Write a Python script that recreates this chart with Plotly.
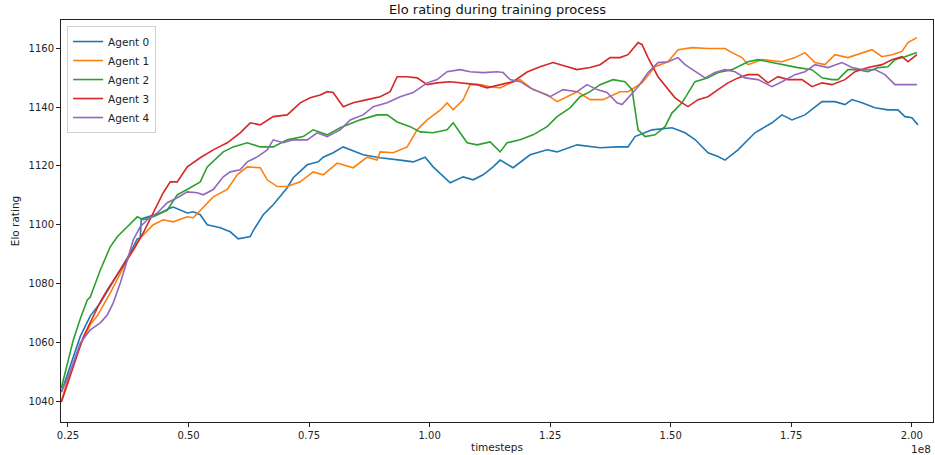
import plotly.graph_objects as go

# timesteps in millions, Elo ratings
agent0_x = [23.62, 25.48, 27.55, 29.63, 31.70, 33.77, 35.85, 37.92, 39.37, 39.99, 40.20, 42.07, 44.14, 46.21, 46.83, 49.74, 50.98, 52.43, 53.88, 56.58, 58.65, 60.31, 62.80, 63.42, 65.49, 67.56, 70.47, 71.71, 74.61, 76.89, 77.93, 80.00, 82.07, 86.22, 89.74, 93.89, 96.59, 99.07, 100.73, 104.26, 106.95, 109.02, 111.10, 113.17, 114.62, 117.32, 120.84, 124.36, 126.44, 130.58, 135.35, 138.87, 141.15, 142.60, 146.13, 150.28, 152.97, 155.04, 157.74, 159.81, 161.26, 163.96, 166.03, 167.48, 171.01, 173.08, 175.15, 177.85, 181.37, 184.07, 186.14, 187.59, 189.66, 192.36, 195.05, 197.13, 198.58, 200.03, 201.27]
agent0_y = [1043, 1052, 1062, 1069, 1073.4, 1079, 1084.6, 1090.4, 1095.2, 1095.5, 1102, 1103, 1104, 1105.7, 1106, 1104, 1104.4, 1103.4, 1100, 1099, 1097.6, 1095.2, 1096, 1098, 1103.4, 1106.8, 1112.6, 1116, 1120.4, 1121.4, 1123, 1124.5, 1126.5, 1123.8, 1122.8, 1122, 1121.4, 1123, 1119.7, 1114.3, 1116.3, 1115.3, 1117, 1119.7, 1122, 1119.4, 1123.8, 1125.5, 1124.8, 1127.2, 1126.2, 1126.5, 1126.5, 1130, 1132.3, 1133, 1131.3, 1129, 1124.5, 1123.2, 1122, 1125.5, 1129, 1131.3, 1134.7, 1137.4, 1135.7, 1137.4, 1141.9, 1141.9, 1140.9, 1142.6, 1141.5, 1139.8, 1139.1, 1139.1, 1136.8, 1136.4, 1134]

agent1_x = [23.62, 25.48, 27.55, 29.63, 31.08, 33.77, 37.30, 39.99, 42.69, 44.76, 46.83, 49.74, 50.98, 53.05, 55.12, 58.03, 60.10, 62.17, 64.87, 66.32, 68.39, 70.47, 73.16, 75.85, 77.93, 80.83, 84.15, 87.05, 89.12, 89.74, 92.44, 95.34, 97.41, 99.49, 102.18, 103.63, 104.88, 106.95, 108.40, 110.47, 112.55, 114.62, 117.32, 118.77, 121.46, 124.36, 126.44, 128.51, 130.58, 133.28, 135.97, 139.50, 141.15, 144.06, 146.75, 149.45, 151.52, 154.43, 157.74, 161.26, 162.71, 164.79, 166.03, 168.93, 173.08, 175.77, 177.85, 179.92, 181.99, 184.07, 186.76, 191.74, 193.81, 195.88, 197.96, 199.20, 201.07]
agent1_y = [1040, 1050, 1059, 1066, 1069, 1076.8, 1088, 1095.5, 1100, 1101.7, 1101, 1102.7, 1102.4, 1106, 1109.5, 1112, 1117, 1119.7, 1119.4, 1115.3, 1113, 1113, 1114.6, 1118, 1117, 1121, 1119.4, 1123, 1122, 1124.8, 1124.5, 1126.5, 1132.3, 1135.7, 1139, 1141.5, 1139.1, 1142.5, 1147.7, 1147.7, 1147, 1146.6, 1148.7, 1149.4, 1146, 1144.3, 1141.9, 1143.6, 1145.3, 1142.6, 1142.6, 1145.3, 1145.3, 1148.3, 1153.8, 1155.5, 1159.6, 1160.3, 1160, 1160, 1158.6, 1156.9, 1154.5, 1156.2, 1155.5, 1156.9, 1158.6, 1155.2, 1154.5, 1157.9, 1156.9, 1159.6, 1157.2, 1157.9, 1159, 1162, 1163.7]

agent2_x = [23.62, 26.10, 27.55, 29.00, 29.63, 31.70, 33.77, 35.22, 37.30, 39.37, 40.61, 42.69, 45.59, 47.66, 50.35, 52.43, 53.88, 55.95, 57.20, 59.27, 62.17, 64.87, 67.56, 70.47, 73.78, 75.85, 78.76, 81.45, 85.60, 89.12, 91.19, 93.27, 95.96, 98.04, 100.73, 103.63, 104.88, 106.33, 107.78, 109.85, 112.55, 114.62, 116.07, 118.77, 121.46, 124.36, 126.44, 129.13, 131.20, 133.28, 135.35, 138.04, 140.53, 141.98, 142.60, 143.23, 144.68, 146.75, 148.82, 150.28, 152.35, 153.59, 155.04, 157.74, 159.81, 162.71, 166.03, 168.10, 171.01, 173.70, 176.40, 179.30, 181.37, 183.44, 184.69, 186.76, 188.84, 190.91, 192.98, 195.05, 196.50, 198.58, 201.07]
agent2_y = [1044.4, 1060.8, 1068, 1074.4, 1075.4, 1084.6, 1092.5, 1095.9, 1099.3, 1102.7, 1101.7, 1102.7, 1105, 1110.2, 1112.6, 1114.6, 1119.7, 1122.8, 1124.8, 1126.5, 1127.9, 1126.5, 1126.5, 1128.9, 1130, 1132.3, 1130.6, 1133, 1135.7, 1137.4, 1137.4, 1135, 1133.4, 1131.6, 1131.3, 1132.3, 1134.7, 1131.3, 1127.9, 1127.2, 1128.2, 1124.8, 1127.9, 1128.9, 1130.6, 1133.4, 1136.8, 1139.8, 1143.6, 1145.3, 1147.7, 1149.4, 1148.7, 1146, 1139.1, 1132.3, 1130, 1130.6, 1133.4, 1138.1, 1141.5, 1145, 1148.7, 1150, 1151.8, 1152.8, 1155.5, 1156.2, 1155.2, 1154.5, 1153.5, 1152.8, 1150, 1149.4, 1149.4, 1152.8, 1152.8, 1152.1, 1153.5, 1153.8, 1156.2, 1157.2, 1158.6]

agent3_x = [23.62, 25.48, 28.17, 31.70, 33.15, 35.85, 38.54, 40.61, 42.69, 44.76, 46.21, 47.66, 49.74, 52.43, 55.12, 58.03, 60.72, 62.80, 64.87, 67.56, 70.47, 73.16, 75.23, 77.31, 78.76, 80.00, 82.07, 84.15, 87.05, 89.74, 91.82, 93.27, 95.34, 97.41, 99.49, 101.56, 104.26, 106.95, 109.85, 111.92, 114.62, 117.32, 120.22, 122.91, 125.61, 128.51, 130.58, 133.28, 135.35, 137.42, 139.50, 141.15, 143.23, 144.06, 145.30, 147.37, 149.45, 150.90, 152.35, 153.59, 155.66, 157.74, 159.81, 161.88, 163.96, 166.03, 168.10, 170.18, 172.25, 174.32, 177.23, 179.30, 181.37, 183.44, 186.14, 188.21, 190.91, 193.81, 195.88, 197.96, 199.20, 201.07]
agent3_y = [1039.6, 1049, 1061.8, 1073.7, 1077.8, 1084.6, 1091.4, 1097.2, 1104, 1110.9, 1114.6, 1114.6, 1119.7, 1122.8, 1125.5, 1127.9, 1131.3, 1134.7, 1134, 1136.8, 1137.4, 1141.5, 1143.2, 1144.2, 1145.3, 1145, 1140.2, 1141.5, 1142.6, 1143.6, 1145.3, 1150.4, 1150.4, 1150, 1147.7, 1148.3, 1148.7, 1148.3, 1147.7, 1146.6, 1147.7, 1148.7, 1152, 1153.8, 1155.2, 1153.8, 1152.8, 1153.5, 1154.5, 1156.9, 1156.9, 1157.9, 1162, 1161.3, 1156.9, 1150.4, 1146, 1143.2, 1141.5, 1140.2, 1142.6, 1143.6, 1146, 1148.3, 1150, 1151.1, 1151.1, 1148.3, 1150.4, 1149.4, 1149.4, 1147, 1148.3, 1147.7, 1149.4, 1152.1, 1153.5, 1154.5, 1156.2, 1157.2, 1155.5, 1157.9]

agent4_x = [23.62, 25.48, 27.55, 29.63, 31.70, 33.15, 34.39, 35.85, 37.30, 38.54, 39.99, 41.44, 43.52, 45.59, 47.66, 49.74, 51.81, 53.05, 55.12, 57.20, 58.65, 60.72, 62.17, 64.25, 66.32, 67.56, 69.64, 71.71, 74.61, 76.68, 78.76, 81.45, 83.53, 86.22, 88.29, 91.19, 93.89, 96.59, 99.49, 101.56, 103.63, 106.33, 108.40, 111.10, 114.00, 115.24, 116.69, 118.77, 120.84, 122.91, 124.99, 127.68, 130.58, 132.65, 134.73, 136.80, 138.87, 139.91, 141.15, 143.23, 145.30, 147.37, 149.45, 151.52, 152.97, 155.04, 157.12, 159.19, 161.26, 163.34, 165.41, 168.10, 171.01, 173.08, 175.77, 177.85, 179.92, 182.61, 185.52, 187.59, 189.66, 192.36, 194.43, 196.50, 198.58, 201.07]
agent4_y = [1043, 1050, 1059.8, 1064.2, 1066.6, 1069.3, 1073.4, 1080.2, 1088, 1094.9, 1099.3, 1101.7, 1104, 1107.5, 1109.2, 1111.2, 1110.9, 1110.2, 1112, 1116.3, 1118, 1118.7, 1121.4, 1123.1, 1125.5, 1128.9, 1127.9, 1128.9, 1128.9, 1131.3, 1130, 1132.3, 1135.7, 1137.4, 1140.2, 1141.5, 1143.6, 1145, 1148.3, 1149.4, 1152.1, 1152.8, 1152.1, 1151.8, 1152.1, 1151.8, 1149.4, 1148.7, 1146.6, 1145, 1143.6, 1146, 1145.3, 1147.7, 1146, 1145, 1141.5, 1140.9, 1143.2, 1147, 1151.8, 1155.2, 1155.5, 1156.9, 1154.5, 1152.1, 1150, 1151.8, 1152.8, 1152.1, 1150, 1149.4, 1147, 1148.7, 1151.1, 1152.1, 1154.5, 1153.5, 1155.2, 1153.5, 1152.8, 1152.8, 1151.1, 1147.7, 1147.7, 1147.7]

names = ["Agent 0", "Agent 1", "Agent 2", "Agent 3", "Agent 4"]
xs = [agent0_x, agent1_x, agent2_x, agent3_x, agent4_x]
ys = [agent0_y, agent1_y, agent2_y, agent3_y, agent4_y]
colors = ["#1f77b4", "#ff7f0e", "#2ca02c", "#d62728", "#9467bd"]

x_tickvals = [0.25e8, 0.50e8, 0.75e8, 1.00e8, 1.25e8, 1.50e8, 1.75e8, 2.00e8]
x_ticktext = ["0.25", "0.50", "0.75", "1.00", "1.25", "1.50", "1.75", "2.00"]
y_tickvals = [1040, 1060, 1080, 1100, 1120, 1140, 1160]

FONT = "DejaVu Sans"

fig = go.Figure()
for n, x, y, c in zip(names, xs, ys, colors):
    fig.add_trace(go.Scatter(x=[v * 1e6 for v in x], y=y, mode="lines", name=n,
                             line=dict(color=c, width=1.6)))

fig.update_layout(
    width=935, height=455,
    margin=dict(l=61, r=2, t=20, b=33),
    paper_bgcolor="white", plot_bgcolor="white",
    font=dict(family=FONT, size=10, color="#222"),
    title=dict(text="Elo rating during training process", x=0.532, xanchor="center",
               y=1 - 9 / 455, yanchor="middle", yref="container",
               font=dict(family=FONT, size=13, color="#111")),
    showlegend=True,
    legend=dict(x=0.007, y=0.985, xanchor="left", yanchor="top",
                bgcolor="rgba(255,255,255,0.8)", bordercolor="#d0d0d0", borderwidth=1,
                font=dict(family=FONT, size=10.5, color="#222"),
                itemwidth=30, tracegroupgap=0),
    xaxis=dict(range=[23.55e6, 204.4e6], tickmode="array", tickvals=x_tickvals,
               ticktext=x_ticktext, ticks="outside", ticklen=4, tickwidth=1, tickcolor="#222",
               showline=True, linecolor="#222", linewidth=1, mirror=True,
               showgrid=False, zeroline=False,
               title=dict(text="timesteps", standoff=3, font=dict(family=FONT, size=10.5))),
    yaxis=dict(range=[1032.85, 1169.7], tickmode="array", tickvals=y_tickvals,
               ticks="outside", ticklen=4, tickwidth=1, tickcolor="#222",
               showline=True, linecolor="#222", linewidth=1, mirror=True,
               showgrid=False, zeroline=False,
               title=dict(text="Elo rating", standoff=6, font=dict(family=FONT, size=10.5))),
    annotations=[dict(text="1e8", xref="paper", yref="paper", x=1.0, y=-0.067,
                      xanchor="right", yanchor="middle", showarrow=False,
                      font=dict(family=FONT, size=10.5, color="#222"))],
)

fig.write_html("out.html", config={"displayModeBar": False},
               post_script="document.body.style.margin='0';document.body.style.overflow='hidden';")
